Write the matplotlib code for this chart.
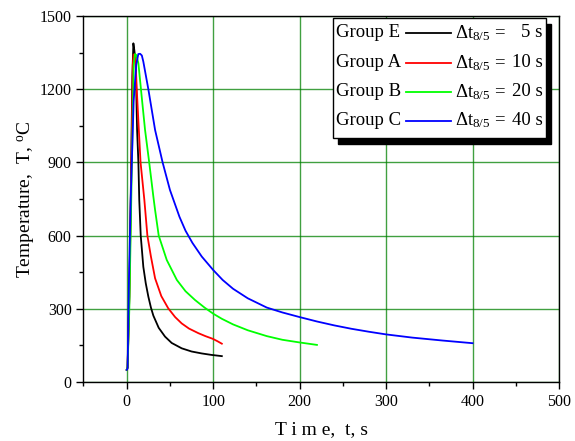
import numpy as np
import matplotlib
matplotlib.use('Agg')
import matplotlib.pyplot as plt
from matplotlib.patches import Rectangle
from matplotlib.lines import Line2D
from matplotlib.ticker import MultipleLocator

plt.rcParams['font.family'] = ['Liberation Serif', 'DejaVu Serif']
plt.rcParams['mathtext.fontset'] = 'custom'
plt.rcParams['mathtext.rm'] = 'Liberation Serif'
plt.rcParams['mathtext.it'] = 'Liberation Serif:italic'

# ===================== data =====================
# Group E, dt8/5 = 5 s
t_e = [0, 1, 3, 5, 6.5, 7.7, 8.8, 10.4, 11, 12, 13.5, 14.5, 16.2, 19.2, 22, 25, 28, 30.8,
       37, 44.3, 52, 63.6, 75, 86.8, 98, 110]
T_e = [50, 60, 350, 850, 1250, 1388, 1360, 1306, 1200, 1033, 900, 746, 600, 472, 405, 350, 305, 272,
       222, 186, 160, 138, 125, 117, 111, 106]
# Group A, dt8/5 = 10 s
t_a = [0, 1, 3, 5, 7, 8, 9.5, 10.5, 11.6, 14, 16, 20.4, 23.9, 28, 32.8, 40, 48, 56, 63.6,
       72, 82.9, 91, 99.5, 105, 110]
T_a = [50, 60, 350, 800, 1300, 1342, 1342, 1290, 1200, 1033, 900, 746, 600, 514, 425, 352, 302, 266, 240,
       219, 200, 188, 177, 167, 157]
# Group B, dt8/5 = 20 s
t_b = [0, 1, 3, 5, 8, 9.6, 11, 13.5, 17.3, 21.2, 26, 30.8, 32.8, 37, 46.3, 58, 68, 79, 90, 100,
       110, 123, 140, 162, 180, 200, 220]
T_b = [50, 60, 300, 700, 1300, 1344, 1340, 1306, 1170, 1033, 900, 760, 705, 600, 500, 418, 372, 336, 305, 280,
       259, 236, 212, 188, 173, 162, 152]
# Group C, dt8/5 = 40 s
t_c = [0, 1, 2.5, 4.6, 8, 11, 13.4, 15.5, 17.5, 19.2, 25, 32.8, 41.5, 50, 61, 68, 76, 86.8, 100, 111, 123,
       140, 162, 180, 200, 220, 240, 260, 280, 300, 330, 365, 400]
T_c = [50, 55, 400, 746, 1150, 1300, 1344, 1345, 1338, 1313, 1200, 1033, 900, 787, 677, 620, 570, 514, 459, 418, 382,
       343, 305, 285, 266, 248, 232, 218, 206, 195, 182, 170, 159]

groups = ['Group E', 'Group A', 'Group B', 'Group C']
dt_values = ['5 s', '10 s', '20 s', '40 s']
colors = ['black', '#ff0000', '#00ff00', '#0000ff']

# ===================== plot =====================
fig = plt.figure(figsize=(5.75, 4.41), dpi=100)
ax = fig.add_axes([0.1452, 0.1338, 0.827, 0.830])

series = [(t_e, T_e), (t_a, T_a), (t_b, T_b), (t_c, T_c)]
for (t, T), c in zip(series, colors):
    ax.plot(t, T, color=c, lw=1.3, zorder=3, solid_joinstyle='round')

ax.set_xlim(-50, 500)
ax.set_ylim(0, 1500)
ax.xaxis.set_major_locator(MultipleLocator(100))
ax.xaxis.set_minor_locator(MultipleLocator(50))
ax.yaxis.set_major_locator(MultipleLocator(300))
ax.yaxis.set_minor_locator(MultipleLocator(150))
ax.tick_params(which='both', direction='out', labelsize=11.5, width=1)
ax.tick_params(which='major', length=5)
ax.tick_params(which='minor', length=3)
for s in ax.spines.values():
    s.set_linewidth(1)

ax.grid(True, which='major', color='green', lw=1, alpha=0.75, zorder=1)
ax.set_axisbelow(True)

ax.set_xlabel('T i m e,  t, s', fontsize=14, labelpad=8)
ax.set_ylabel(r'Temperature,  T, $^{\rm o}$C', fontsize=14, labelpad=2)

# legend box with shadow (axes fraction coords)
x0, x1, y0, y1 = 0.525, 0.972, 0.6675, 0.994
ax.add_patch(Rectangle((x0 + 0.011, y0 - 0.017), x1 - x0, y1 - y0, transform=ax.transAxes,
                       facecolor='black', edgecolor='black', zorder=5, clip_on=False))
ax.add_patch(Rectangle((x0, y0), x1 - x0, y1 - y0, transform=ax.transAxes,
                       facecolor='white', edgecolor='black', lw=1, zorder=6, clip_on=False))
rows = [0.954, 0.872, 0.793, 0.714]
for g, dv, c, ry in zip(groups, dt_values, colors, rows):
    ax.text(0.530, ry, g, transform=ax.transAxes, fontsize=13.5, va='center', ha='left', zorder=7)
    ax.add_line(Line2D([0.679, 0.773], [ry, ry], transform=ax.transAxes, color=c, lw=1.3, zorder=7))
    ax.text(0.781, ry, r'$\Delta$t$_{8/5}$ =', transform=ax.transAxes, fontsize=13.5,
            va='center', ha='left', zorder=7)
    ax.text(0.966, ry, dv, transform=ax.transAxes, fontsize=13.5, va='center', ha='right', zorder=7)

fig.savefig('out.png', dpi=100)
